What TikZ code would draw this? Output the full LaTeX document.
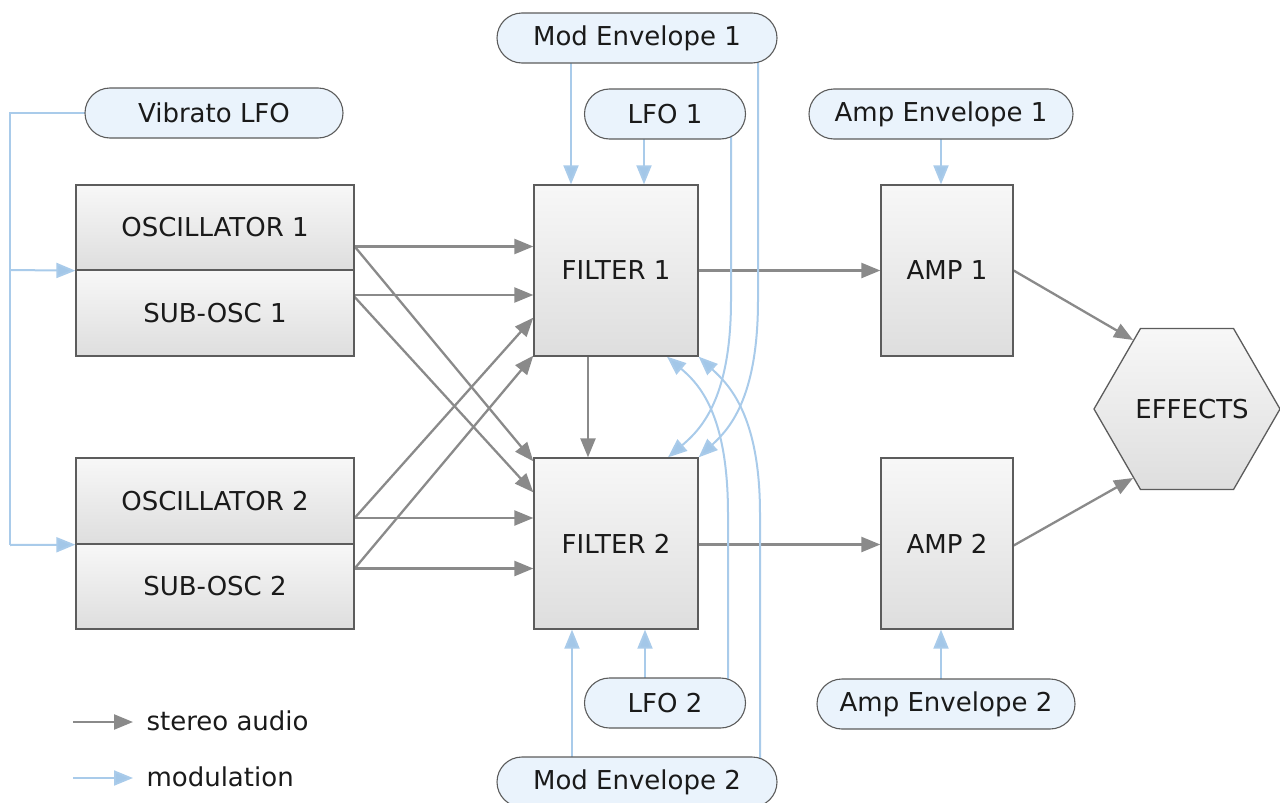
\documentclass[tikz,border=0pt]{standalone}
\usepackage{fontspec}
\setmainfont{DejaVu Sans}
\usetikzlibrary{shapes.misc,shapes.geometric,arrows.meta,backgrounds}
\definecolor{boxline}{HTML}{5C5C5C}
\definecolor{pillfill}{HTML}{EAF3FC}
\definecolor{audio}{HTML}{8A8A8A}
\definecolor{modc}{HTML}{A9CBEA}
\definecolor{modtip}{HTML}{A3C7E8}
\definecolor{txt}{HTML}{1A1A1A}
\tikzset{
  every node/.style={font=\fontsize{26}{30}\selectfont, text=txt},
  blockbox/.style={rectangle, draw=boxline, line width=1.3pt, top color=white!97!black, bottom color=black!13, inner sep=0pt},
  pill/.style={rounded rectangle, draw=boxline, line width=1.1pt, fill=pillfill, minimum height=50pt, inner sep=0pt},
  aud/.style={draw=audio, line width=2.3pt, -{Triangle[length=19pt,width=15pt,fill=audio]}},
  modl/.style={draw=modc, line width=2pt},
  moda/.style={modl, -{Triangle[length=19pt,width=15pt,fill=modtip]}},
}
\begin{document}
\begin{tikzpicture}[x=1pt,y=-1pt]
\useasboundingbox (0,0) rectangle (1280,803);
% blocks
\node[blockbox, minimum width=278pt, minimum height=85pt] (osc1) at (215,227.5) {OSCILLATOR 1};
\node[blockbox, minimum width=278pt, minimum height=86pt] (sub1) at (215,313) {SUB-OSC 1};
\node[blockbox, minimum width=278pt, minimum height=86pt] (osc2) at (215,501) {OSCILLATOR 2};
\node[blockbox, minimum width=278pt, minimum height=85pt] (sub2) at (215,586.5) {SUB-OSC 2};
\node[blockbox, minimum width=164pt, minimum height=171pt] (f1) at (616,270.5) {FILTER 1};
\node[blockbox, minimum width=164pt, minimum height=171pt] (f2) at (616,543.5) {FILTER 2};
\node[blockbox, minimum width=132pt, minimum height=171pt] (amp1) at (947,270.5) {AMP 1};
\node[blockbox, minimum width=132pt, minimum height=171pt] (amp2) at (947,543.5) {AMP 2};
\node[regular polygon, regular polygon sides=6, minimum size=186pt, inner sep=0pt, draw=boxline, line width=1.3pt, top color=white!97!black, bottom color=black!13] (fx) at (1187,409) {};
\node (fxt) at (1192,409) {EFFECTS};
% pills
\node[pill, minimum width=258pt] (vib) at (214,113) {Vibrato LFO};
\node[pill, minimum width=280pt] (me1) at (637,38) {Mod Envelope 1};
\node[pill, minimum width=161pt] (lfo1) at (665,114) {LFO 1};
\node[pill, minimum width=264pt] (ae1) at (941,114) {Amp Envelope 1};
\node[pill, minimum width=161pt] (lfo2) at (665,703) {LFO 2};
\node[pill, minimum width=280pt] (me2) at (637,782) {Mod Envelope 2};
\node[pill, minimum width=258pt] (ae2) at (946,704) {Amp Envelope 2};
% legend
\coordinate (la1) at (73,722); \coordinate (la2) at (133,722);
\coordinate (lm1) at (73,778); \coordinate (lm2) at (133,778);
\node[anchor=west] (lat) at (143,721) {stereo audio};
\node[anchor=west] (lmt) at (143,777) {modulation};
\begin{scope}[on background layer]
% audio
\draw[aud] ([yshift=-19pt]osc1.east) -- ([yshift=-19pt]osc1.east -| f1.west);
\draw[aud] ([yshift=18pt]sub1.east) -- ([yshift=18pt]sub1.east -| f1.west);
\draw[aud] ([yshift=-17pt]osc2.east) -- ([yshift=-17pt]osc2.east -| f2.west);
\draw[aud] ([yshift=18pt]sub2.east) -- ([yshift=18pt]sub2.east -| f2.west);
\draw[aud] ([yshift=-19pt]osc1.east) -- ([yshift=-4pt]f2.north west);
\draw[aud] ([yshift=16pt]sub1.east) -- ([yshift=-35pt]f2.north west);
\draw[aud] ([yshift=-17pt]osc2.east) -- ([yshift=39pt]f1.south west);
\draw[aud] ([yshift=18pt]sub2.east) -- ([yshift=1pt]f1.south west);
\draw[aud] ([xshift=-28pt]f1.south) -- ([xshift=-28pt]f2.north);
\draw[aud] (f1.east) -- (f1.east -| amp1.west);
\draw[aud] ([yshift=-1pt]f2.east) -- ([yshift=-1pt]f2.east -| amp2.west);
\draw[aud] (amp1.east) -- (fx.128);
\draw[aud] ([yshift=-2pt]amp2.east) -- (fx.232);
\draw[aud] (la1) -- (la2);
% modulation
\draw[modl] (vib.center) -- (10,113) -- (10,545);
\coordinate (v1) at (10,270); \coordinate (v2) at (10,545);
\draw[moda] (v1) -- (osc1.south west);
\draw[moda] (v2) -- (osc2.south west);
\draw[moda] ([xshift=-66pt]me1.center) -- ([xshift=-66pt]me1.center |- f1.north);
\draw[moda] ([xshift=-21pt]lfo1.center) -- ([xshift=-21pt]lfo1.center |- f1.north);
\draw[moda] (ae1.center) -- (ae1.center |- amp1.north);
\draw[moda] ([xshift=-65pt]me2.center) -- ([xshift=-65pt]me2.center |- f2.south);
\draw[moda] ([xshift=-20pt]lfo2.center) -- ([xshift=-20pt]lfo2.center |- f2.south);
\draw[moda] ([xshift=-5pt]ae2.center) -- ([xshift=-5pt]ae2.center |- amp2.south);
\draw[moda] ([xshift=66pt]lfo1.center) -- (731,300) .. controls (731,400) and (700,430) .. ([xshift=52pt]f2.north);
\draw[moda] ([xshift=121pt]me1.center) -- (758,300) .. controls (758,400) and (728,430) .. (f2.north east);
\draw[moda] ([xshift=63pt]lfo2.center) -- (728,514) .. controls (728,414) and (699,384) .. ([xshift=51pt]f1.south);
\draw[moda] ([xshift=123pt]me2.center) -- (760,514) .. controls (760,414) and (728,384) .. (f1.south east);
\draw[moda] (lm1) -- (lm2);
\end{scope}
\end{tikzpicture}
\end{document}
